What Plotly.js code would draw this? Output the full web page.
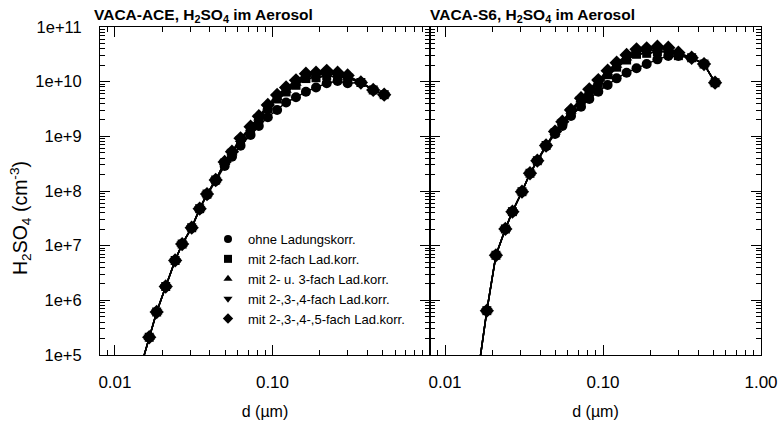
<!DOCTYPE html>
<html>
<head>
<meta charset="utf-8">
<script src="https://cdn.plot.ly/plotly-3.0.1.min.js"></script>
<style>html,body{margin:0;padding:0;background:#fff;}#chart{width:782px;height:434px;}</style>
</head>
<body>
<div id="chart"></div>
<script>
// Particle diameter bins (µm)
const d = [0.0147, 0.0165, 0.0184, 0.0210, 0.0241, 0.0267, 0.0307, 0.0345, 0.0384, 0.0436, 0.0497, 0.0553, 0.0627, 0.0726, 0.0819, 0.0934, 0.107, 0.122, 0.141, 0.163, 0.189, 0.221, 0.259, 0.300, 0.364, 0.436, 0.512];

// VACA-ACE (cm^-3)
const aceOhne = [6.56e4, 2.11e5, 6.12e5, 1.79e6, 5.36e6, 1.07e7, 2.13e7, 4.62e7, 8.45e7, 1.52e8, 2.87e8, 4.25e8, 6.75e8, 1.06e9, 1.55e9, 2.23e9, 3.03e9, 4.16e9, 5.18e9, 6.56e9, 7.82e9, 9.33e9, 1.03e10, 9.33e9, 9.66e9, 7.05e9, 5.78e9];
const aceLad2 = [6.56e4, 2.11e5, 6.12e5, 1.79e6, 5.36e6, 1.07e7, 2.13e7, 4.75e7, 8.8e7, 1.59e8, 3.26e8, 4.92e8, 8.45e8, 1.35e9, 2.05e9, 3.23e9, 4.82e9, 6.47e9, 8.59e9, 1.14e10, 1.18e10, 1.28e10, 1.23e10, 1.14e10, 9.66e9, 7.05e9, 5.78e9];
const aceLad3 = [6.56e4, 2.11e5, 6.12e5, 1.79e6, 5.36e6, 1.07e7, 2.13e7, 4.75e7, 8.8e7, 1.59e8, 3.31e8, 5.02e8, 8.75e8, 1.41e9, 2.16e9, 3.44e9, 5.15e9, 6.98e9, 9.33e9, 1.23e10, 1.29e10, 1.39e10, 1.32e10, 1.20e10, 9.66e9, 7.05e9, 5.78e9];
const aceLad4 = [6.56e4, 2.11e5, 6.12e5, 1.79e6, 5.36e6, 1.07e7, 2.13e7, 4.75e7, 8.8e7, 1.59e8, 3.36e8, 5.13e8, 8.97e8, 1.45e9, 2.24e9, 3.59e9, 5.42e9, 7.36e9, 9.95e9, 1.32e10, 1.37e10, 1.49e10, 1.39e10, 1.25e10, 9.66e9, 7.05e9, 5.78e9];
const aceLad5 = [6.56e4, 2.11e5, 6.12e5, 1.79e6, 5.36e6, 1.07e7, 2.13e7, 4.75e7, 8.8e7, 1.59e8, 3.40e8, 5.24e8, 9.21e8, 1.50e9, 2.33e9, 3.74e9, 5.70e9, 7.82e9, 1.06e10, 1.40e10, 1.46e10, 1.58e10, 1.46e10, 1.30e10, 9.66e9, 7.05e9, 5.78e9];

// VACA-S6 (cm^-3)
const s6Ohne = [null, 7.0e4, 6.47e5, 6.67e6, 2.02e7, 4.19e7, 9.71e7, 2.11e8, 3.58e8, 6.5e8, 1.10e9, 1.55e9, 2.36e9, 3.48e9, 4.82e9, 6.56e9, 8.69e9, 1.15e10, 1.46e10, 1.76e10, 2.10e10, 2.56e10, 2.95e10, 2.95e10, 2.74e10, 2.10e10, 9.57e9];
const s6Lad2 = [null, 7.0e4, 6.47e5, 6.67e6, 2.02e7, 4.19e7, 9.71e7, 2.11e8, 3.58e8, 6.8e8, 1.17e9, 1.74e9, 2.79e9, 4.47e9, 6.38e9, 9.27e9, 1.34e10, 1.84e10, 2.49e10, 3.17e10, 3.30e10, 3.54e10, 3.53e10, 2.99e10, 2.74e10, 2.10e10, 9.57e9];
const s6Lad3 = [null, 7.0e4, 6.47e5, 6.67e6, 2.02e7, 4.19e7, 9.71e7, 2.11e8, 3.58e8, 6.8e8, 1.19e9, 1.78e9, 2.88e9, 4.67e9, 6.71e9, 9.86e9, 1.44e10, 1.99e10, 2.71e10, 3.44e10, 3.59e10, 3.85e10, 3.78e10, 3.14e10, 2.74e10, 2.10e10, 9.57e9];
const s6Lad4 = [null, 7.0e4, 6.47e5, 6.67e6, 2.02e7, 4.19e7, 9.71e7, 2.11e8, 3.58e8, 6.8e8, 1.20e9, 1.82e9, 2.96e9, 4.80e9, 6.98e9, 1.03e10, 1.51e10, 2.09e10, 2.89e10, 3.67e10, 3.83e10, 4.10e10, 3.97e10, 3.27e10, 2.74e10, 2.10e10, 9.57e9];
const s6Lad5 = [null, 7.0e4, 6.47e5, 6.67e6, 2.02e7, 4.19e7, 9.71e7, 2.11e8, 3.58e8, 6.8e8, 1.22e9, 1.85e9, 3.03e9, 4.97e9, 7.25e9, 1.07e10, 1.59e10, 2.22e10, 3.08e10, 3.91e10, 4.07e10, 4.36e10, 4.18e10, 3.39e10, 2.74e10, 2.10e10, 9.57e9];

const seriesNames = ['ohne Ladungskorr.', 'mit 2-fach Lad.korr.', 'mit 2- u. 3-fach Lad.korr.', 'mit 2-,3-,4-fach Lad.korr.', 'mit 2-,3-,4-,5-fach Lad.korr.'];
const symbols = ['circle', 'square', 'triangle-up', 'triangle-down', 'diamond'];
const sizes = [10, 9, 10, 10, 11];

const yTickVals = [1e5, 1e6, 1e7, 1e8, 1e9, 1e10, 1e11];
const yTickText = ['1e+5', '1e+6', '1e+7', '1e+8', '1e+9', '1e+10', '1e+11'];
const xTickValsL = [0.01, 0.1];
const xTickTextL = ['0.01', '0.10'];
const xTickValsR = [0.01, 0.1, 1];
const xTickTextR = ['0.01', '0.10', '1.00'];

const FONT = '"Liberation Sans", Arial, Helvetica, sans-serif';
const ace = [aceOhne, aceLad2, aceLad3, aceLad4, aceLad5];
const s6 = [s6Ohne, s6Lad2, s6Lad3, s6Lad4, s6Lad5];

const traces = [];
ace.forEach((ys, i) => traces.push({
  x: d, y: ys, xaxis: 'x', yaxis: 'y', mode: 'lines+markers', showlegend: false,
  line: {color: '#000', width: 1.5},
  marker: {symbol: symbols[i], size: sizes[i], color: '#000'},
  name: seriesNames[i], cliponaxis: true
}));
s6.forEach((ys, i) => traces.push({
  x: d, y: ys, xaxis: 'x2', yaxis: 'y2', mode: 'lines+markers', showlegend: false,
  line: {color: '#000', width: 1.5},
  marker: {symbol: symbols[i], size: sizes[i], color: '#000'},
  name: seriesNames[i], cliponaxis: true
}));
// legend entries (markers only)
seriesNames.forEach((n, i) => traces.push({
  x: [null], y: [null], xaxis: 'x', yaxis: 'y', mode: 'markers', name: n, showlegend: true,
  marker: {symbol: symbols[i], size: 8, color: '#000'}
}));

const W = 782, H = 434;
const xL0 = 100 / W, xMid = 430 / W, xR1 = 761 / W;
const yB = (H - 355) / H, yT = (H - 27) / H;

const xCommon = {
  type: 'log', range: [-2.095, 0], showgrid: false, zeroline: false,
  showline: true, linecolor: '#000', linewidth: 1, mirror: 'ticks',
  ticks: 'inside', ticklen: 10, tickwidth: 1, tickcolor: '#000',
  minor: {ticks: 'inside', ticklen: 5, dtick: 'D1', tickcolor: '#000', showgrid: false},
  tickfont: {family: FONT, size: 17, color: '#000'},
  ticklabelstandoff: 12,
  title: {text: 'd (µm)', font: {family: FONT, size: 16, color: '#000'}, standoff: 14},
  automargin: false
};
const yCommon = {
  type: 'log', range: [5, 11], domain: [yB, yT], showgrid: false, zeroline: false,
  showline: true, linecolor: '#000', linewidth: 1, mirror: 'ticks',
  ticks: 'inside', ticklen: 10, tickwidth: 1, tickcolor: '#000',
  minor: {ticks: 'inside', ticklen: 5, dtick: 'D1', tickcolor: '#000', showgrid: false},
  tickvals: yTickVals, ticktext: yTickText,
  tickfont: {family: FONT, size: 16.5, color: '#000'},
  ticklabelstandoff: 14, automargin: false
};

const layout = {
  width: W, height: H,
  margin: {l: 0, r: 0, t: 0, b: 0},
  paper_bgcolor: '#fff', plot_bgcolor: '#fff',
  font: {family: FONT, color: '#000'},
  xaxis: Object.assign({}, xCommon, {domain: [xL0, xMid], anchor: 'y', tickvals: xTickValsL, ticktext: xTickTextL}),
  xaxis2: Object.assign({}, xCommon, {domain: [xMid, xR1], anchor: 'y2', tickvals: xTickValsR, ticktext: xTickTextR}),
  yaxis: Object.assign({}, yCommon, {anchor: 'x'}),
  yaxis2: Object.assign({}, yCommon, {anchor: 'x2', showticklabels: false}),
  showlegend: true,
  legend: {
    x: 208 / W, y: (H - 224) / H, xanchor: 'left', yanchor: 'top',
    bgcolor: 'rgba(0,0,0,0)', borderwidth: 0, tracegroupgap: 0,
    font: {family: FONT, size: 13, color: '#000'}
  },
  annotations: [
    {text: '<b>VACA-ACE, H<sub>2</sub>SO<sub>4</sub> im Aerosol</b>', xref: 'paper', yref: 'paper',
     x: 92 / W, y: (H - 15) / H, xanchor: 'left', yanchor: 'middle', showarrow: false,
     font: {family: FONT, size: 15.5, color: '#000'}},
    {text: '<b>VACA-S6, H<sub>2</sub>SO<sub>4</sub> im Aerosol</b>', xref: 'paper', yref: 'paper',
     x: 428 / W, y: (H - 15) / H, xanchor: 'left', yanchor: 'middle', showarrow: false,
     font: {family: FONT, size: 15.5, color: '#000'}},
    {text: 'H<sub>2</sub>SO<sub>4</sub> (cm<sup>-3</sup>)', xref: 'paper', yref: 'paper',
     x: 21 / W, y: (H - 218) / H, xanchor: 'center', yanchor: 'middle', textangle: -90, showarrow: false,
     font: {family: FONT, size: 19.5, color: '#000'}}
  ]
};

Plotly.newPlot('chart', traces, layout, {staticPlot: true, displayModeBar: false});
</script>
</body>
</html>
